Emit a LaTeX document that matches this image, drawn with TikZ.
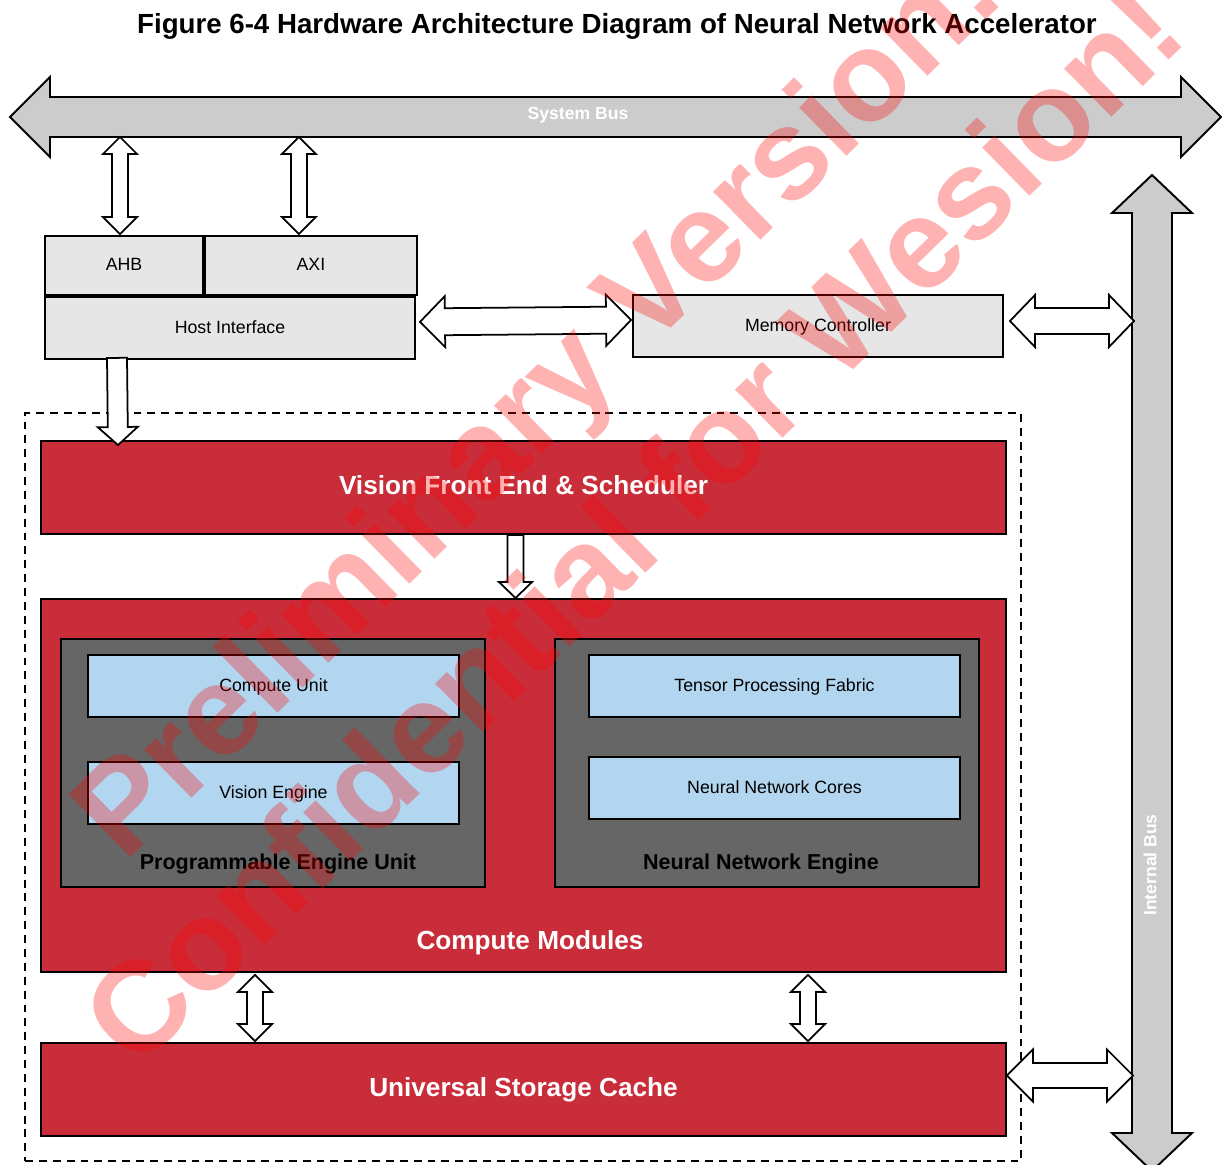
\documentclass[tikz,border=0pt]{standalone}
\usepackage{fontspec}
\setmainfont{Liberation Sans}
\usepackage{tikz}
\usetikzlibrary{calc}
\definecolor{hwred}{HTML}{C92D39}
\definecolor{hwblue}{HTML}{B3D6F0}
\definecolor{hwdark}{HTML}{666666}
\definecolor{hwlight}{HTML}{E6E6E6}
\definecolor{hwbus}{HTML}{CCCCCC}
\newcommand{\upx}{0.5691pt}
\tikzset{
  blk/.style 2 args={draw=black, line width=1.1pt, minimum width=#1*\upx, minimum height=#2*\upx,
              inner sep=0pt, align=center, text height=7.8pt, text depth=1.8pt,
              font=\fontsize{10.1pt}{12pt}\selectfont},
  grey/.style={fill=hwlight},
  unit/.style={fill=hwblue},
  engine/.style={fill=hwdark},
  redblk/.style={fill=hwred, text=white, text height=11pt, text depth=3pt,
              font=\fontsize{14.9pt}{17pt}\selectfont\bfseries},
  zone/.style={draw=black, line width=0.85pt, dash pattern=on 4.5pt off 3.4pt},
  hollow/.style={draw=black, fill=white, line width=1pt, line join=miter},
  bus/.style={draw=black, fill=hwbus, line width=1.1pt, line join=miter},
  fat/.style n args={3}{to path={
      -- ($(\tikztostart)!#3*\upx!(\tikztotarget)!#2*\upx!90:(\tikztotarget)$)
      -- ($(\tikztostart)!#3*\upx!(\tikztotarget)!#1*\upx!90:(\tikztotarget)$)
      -- ($(\tikztotarget)!#3*\upx!(\tikztostart)!#1*\upx!-90:(\tikztostart)$)
      -- ($(\tikztotarget)!#3*\upx!(\tikztostart)!#2*\upx!-90:(\tikztostart)$)
      -- (\tikztotarget)
      -- ($(\tikztotarget)!#3*\upx!(\tikztostart)!#2*\upx!90:(\tikztostart)$)
      -- ($(\tikztotarget)!#3*\upx!(\tikztostart)!#1*\upx!90:(\tikztostart)$)
      -- ($(\tikztostart)!#3*\upx!(\tikztotarget)!#1*\upx!-90:(\tikztotarget)$)
      -- ($(\tikztostart)!#3*\upx!(\tikztotarget)!#2*\upx!-90:(\tikztotarget)$)
      -- cycle}},
  tip/.style n args={3}{to path={
      ($(\tikztostart)!#1*\upx!90:(\tikztotarget)$)
      -- ($(\tikztotarget)!#3*\upx!(\tikztostart)!#1*\upx!-90:(\tikztostart)$)
      -- ($(\tikztotarget)!#3*\upx!(\tikztostart)!#2*\upx!-90:(\tikztostart)$)
      -- (\tikztotarget)
      -- ($(\tikztotarget)!#3*\upx!(\tikztostart)!#2*\upx!90:(\tikztostart)$)
      -- ($(\tikztotarget)!#3*\upx!(\tikztostart)!#1*\upx!90:(\tikztostart)$)
      -- ($(\tikztostart)!#1*\upx!-90:(\tikztotarget)$)
      -- cycle}},
}

\begin{document}
\begin{tikzpicture}[x=\upx, y=-\upx,
  title/.style={anchor=base, inner sep=0pt, font=\fontsize{15.75pt}{18pt}\selectfont\bfseries},
  buslbl/.style={text=white, inner sep=0pt, font=\fontsize{10pt}{12pt}\selectfont\bfseries},
  redtxt/.style={text=white, inner sep=0pt, text height=11pt, text depth=3pt,
                 font=\fontsize{14.9pt}{17pt}\selectfont\bfseries},
  grplbl/.style={text=black, inner sep=0pt, text height=9pt, text depth=2.5pt,
                 font=\fontsize{12.25pt}{14pt}\selectfont\bfseries},
  wmark/.style={anchor=base, rotate=44.4, inner sep=0pt, text=red, text opacity=0.3,
                font=\fontsize{72.8pt}{80pt}\selectfont\bfseries}]
  \useasboundingbox (0,0) rectangle (1222,1165);
  \node[title] (title) at (617,34) {Figure 6-4 Hardware Architecture Diagram of Neural Network Accelerator};

  \coordinate (sbL) at (10,117);
  \coordinate (sbR) at (1221,117);
  \draw[bus, fat={20}{40}{40}] (sbL) to (sbR);
  \node[buslbl] (sblbl) at (578,115) {System Bus};
  \coordinate (ibT) at (1152,175);
  \coordinate (ibB) at (1152,1171);
  \draw[bus, fat={20}{40}{38}] (ibT) to (ibB);
  \node[buslbl, rotate=90] (iblbl) at (1150,865) {Internal Bus};

  \node[blk={158}{59}, grey] (ahb) at (124,265.5) {AHB};
  \node[blk={212}{59}, grey, anchor=west] (axi) at (ahb.east) {AXI};
  \node[blk={370}{62}, grey, anchor=north west] (hostif) at (ahb.south west) {Host Interface};
  \node[blk={370}{62}, grey] (memctl) at (818,326) {Memory Controller};

  \node[zone, minimum width=996*\upx, minimum height=748*\upx] (accel) at (523,787) {};
  \node[blk={965}{93}, redblk] (vfe) at (523.5,487.5) {Vision Front End \& Scheduler};
  \node[blk={965}{373}, redblk] (cm) at (523.5,785.5) {};
  \node[redtxt] (cmlbl) at ($(cm.south)+(6.5,-31)$) {Compute Modules};
  \node[blk={424}{248}, engine] (peu) at (273,763) {};
  \node[blk={371}{62}, unit] (cu) at (273.5,686) {Compute Unit};
  \node[blk={371}{62}, unit] (ve) at (273.5,793) {Vision Engine};
  \node[grplbl] (peulbl) at ($(peu.south)+(5,-24)$) {Programmable Engine Unit};
  \node[blk={424}{248}, engine] (nne) at (767,763) {};
  \node[blk={371}{62}, unit] (tpf) at (774.5,686) {Tensor Processing Fabric};
  \node[blk={371}{62}, unit] (nnc) at (774.5,788) {Neural Network Cores};
  \node[grplbl] (nnelbl) at ($(nne.south)+(-6,-24)$) {Neural Network Engine};
  \node[blk={965}{93}, redblk] (usc) at (523.5,1089.5) {Universal Storage Cache};

  \draw[hollow, fat={8}{17}{17}] ($(ahb.north |- sbL)+(-4,20)$) to ($(ahb.north)+(-4,-1)$);
  \draw[hollow, fat={8}{17}{17}] ($(axi.north |- sbL)+(-12,20)$) to ($(axi.north)+(-12,-1)$);
  \draw[hollow, tip={10}{20}{18}] ($(hostif.south)+(-113,-2)$) to ($(vfe.north)+(-405.5,5)$);
  \draw[hollow, tip={8}{16.5}{16}] ($(vfe.south)+(-8,0)$) to ($(cm.north)+(-8,0)$);
  \draw[hollow, fat={13.5}{25.5}{25}] ($(hostif.east)+(4,-6)$) to ($(memctl.west)+(-1,-6)$);
  \draw[hollow, fat={13}{26}{25}] ($(memctl.east)+(6,-5)$) to ($(ibT |- memctl.east)+(-18,-5)$);
  \draw[hollow, fat={12.5}{26}{26}] ($(usc.east)+(0,-14)$) to ($(ibT |- usc.east)+(-19,-14)$);
  \draw[hollow, fat={8}{17}{17}] ($(cm.south)+(-268.5,2)$) to ($(usc.north)+(-268.5,-1)$);
  \draw[hollow, fat={8}{17}{17}] ($(cm.south)+(284.5,2)$) to ($(usc.north)+(284.5,-1)$);

  \begin{scope}
    \clip (0,0) rectangle (1222,1165);
    \node[wmark] (wm1) at (566,431) {Preliminary Version!};
    \node[wmark] (wm2) at (664,555) {Confidential for Wesion!};
  \end{scope}
\end{tikzpicture}
\end{document}
